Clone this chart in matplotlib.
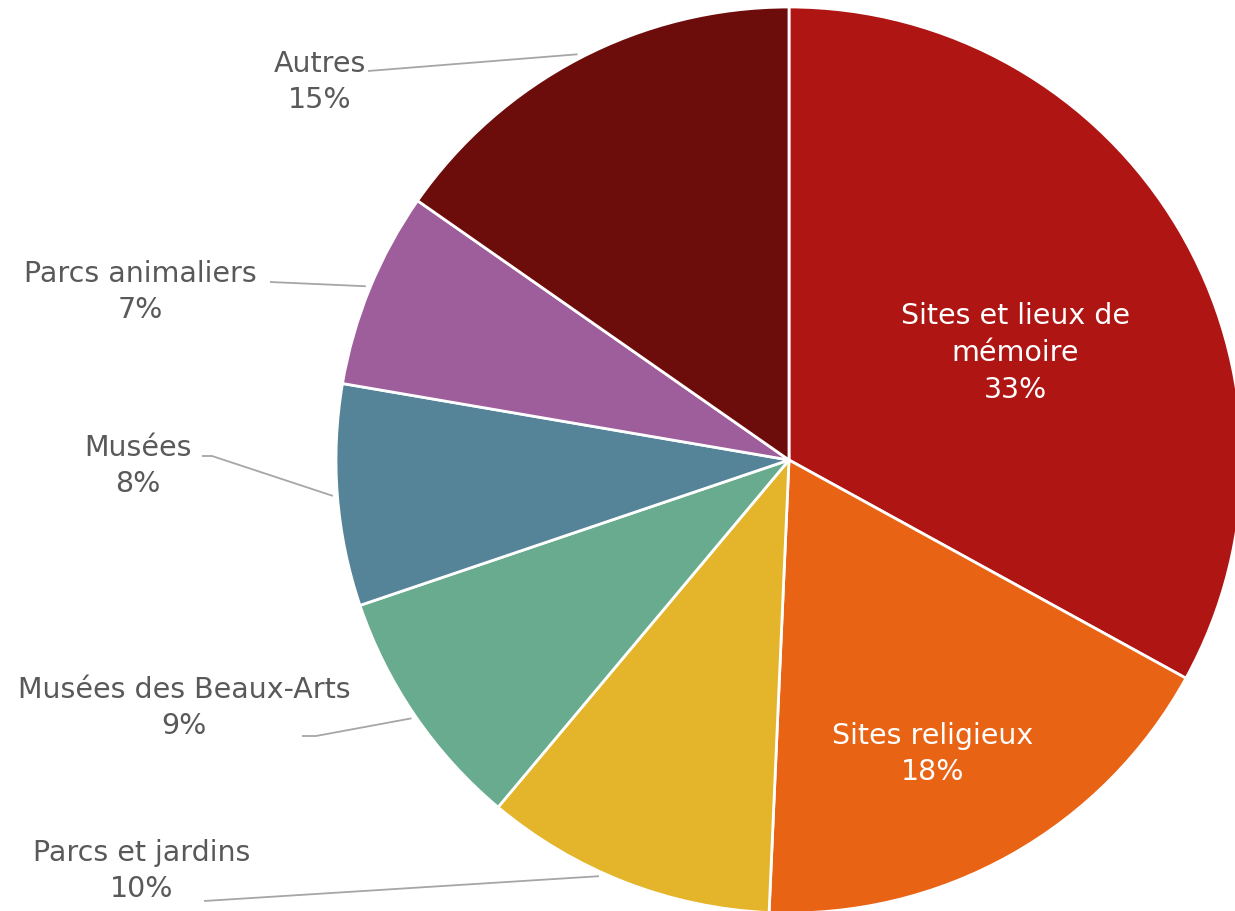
import numpy as np
import matplotlib
matplotlib.use("Agg")
import matplotlib.pyplot as plt

# shares (clockwise from 12 o'clock)
categories = ["Sites et lieux de\nmémoire", "Sites religieux", "Parcs et jardins",
              "Musées des Beaux-Arts", "Musées", "Parcs animaliers", "Autres"]
shares = [33.0, 17.7, 10.4, 8.7, 7.9, 7.0, 15.3]
pct_labels = ["33%", "18%", "10%", "9%", "8%", "7%", "15%"]
colors = ["#AF1513", "#E96314", "#E4B52A", "#69AB8F", "#558499", "#9E5E9B", "#6D0D0B"]

W, H = 1235, 912
CX, CY, R = 789, 461, 453          # pie centre / radius in pixels
TEXT = "#595959"
LINE = "#A6A6A6"
FONT = "DejaVu Sans"
FS = 20.5

fig = plt.figure(figsize=(W / 100, H / 100), dpi=100)
ax = fig.add_axes([0, 0, 1, 1])

wedges, _ = ax.pie(shares, colors=colors, startangle=90, counterclock=False,
                   radius=1.0, wedgeprops=dict(edgecolor="white", linewidth=2.0))

# pie() resets the limits, so map pixels -> data afterwards
ax.set_xlim(-CX / R, (W - CX) / R)
ax.set_ylim(-(H - CY) / R, CY / R)
ax.set_aspect("equal")
ax.axis("off")


def px(x, y):
    """pixel position (from top-left) -> data coords"""
    return (x - CX) / R, (CY - y) / R


# inside labels (white)
for i, (x, y) in {0: (1015, 353), 1: (933, 754)}.items():
    ax.text(*px(x, y), f"{categories[i]}\n{pct_labels[i]}", ha="center", va="center",
            color="white", fontsize=FS, family=FONT, linespacing=1.4)

# outside labels: text centre, start of leader line (pixels), angle offset of the tip
outside = {
    2: ((142, 871), [(204, 902)], -3.3),
    3: ((184, 708), [(302, 737), (316, 737)], 0.0),
    4: ((138, 466), [(202, 457), (212, 457)], 0.0),
    5: ((140, 292), [(270, 283)], 0.0),
    6: ((320, 82), [(368, 72)], 0.0),
}
for i, ((tx, ty), start, dtheta) in outside.items():
    ax.text(*px(tx, ty), f"{categories[i]}\n{pct_labels[i]}", ha="center", va="center",
            color=TEXT, fontsize=FS, family=FONT, linespacing=1.4)
    w = wedges[i]
    mid = np.deg2rad((w.theta1 + w.theta2) / 2 + dtheta)
    pts = [px(x, y) for x, y in start] + [(1.01 * np.cos(mid), 1.01 * np.sin(mid))]
    xs, ys = zip(*pts)
    ax.plot(xs, ys, color=LINE, linewidth=1.3, solid_capstyle="butt")

fig.savefig("out.png", dpi=100)
